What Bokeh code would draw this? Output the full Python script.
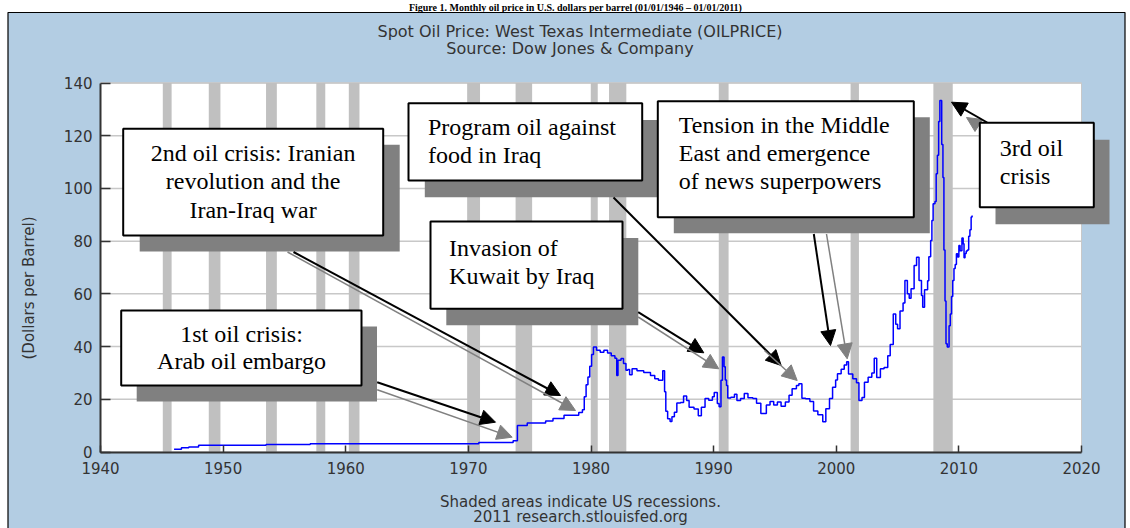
import numpy as np
from bokeh.plotting import figure
from bokeh.models import Range1d, FixedTicker, Arrow, NormalHead
from bokeh.core.properties import value
from bokeh.embed import file_html
from bokeh.resources import INLINE

# ---------------- data ----------------
years = [1946.0, 1946.6, 1947.2, 1948.0, 1953.5, 1957.1, 1970.85, 1973.65, 1974.0, 1974.8,
         1976.3, 1976.9, 1977.8, 1979.0, 1979.3, 1979.45, 1979.6, 1979.75, 1979.9, 1980.05,
         1980.2, 1980.45, 1980.75, 1981.05, 1981.35, 1981.65, 1981.95, 1982.1, 1982.2, 1982.45,
         1982.65, 1982.85, 1983.0, 1983.15, 1983.35, 1983.75, 1984.3, 1984.85, 1985.2, 1985.5,
         1985.85, 1986.0, 1986.1, 1986.25, 1986.45, 1986.6, 1986.8, 1987.0, 1987.3, 1987.55,
         1987.8, 1988.0, 1988.4, 1988.75, 1989.0, 1989.3, 1989.6, 1989.9, 1990.05, 1990.3,
         1990.45, 1990.6, 1990.72, 1990.85, 1990.95, 1991.05, 1991.15, 1991.4, 1991.7, 1991.9,
         1992.2, 1992.5, 1992.8, 1993.2, 1993.5, 1993.85, 1994.3, 1994.6, 1994.9, 1995.2,
         1995.5, 1995.85, 1996.15, 1996.4, 1996.75, 1996.95, 1997.2, 1997.5, 1997.85, 1998.15,
         1998.5, 1998.9, 1999.15, 1999.45, 1999.7, 1999.95, 2000.1, 2000.4, 2000.65, 2000.85,
         2001.0, 2001.35, 2001.65, 2001.85, 2002.1, 2002.3, 2002.6, 2002.9, 2003.1, 2003.3,
         2003.6, 2003.9, 2004.2, 2004.4, 2004.65, 2004.85, 2005.0, 2005.2, 2005.45, 2005.6,
         2005.8, 2005.95, 2006.1, 2006.35, 2006.55, 2006.75, 2006.95, 2007.05, 2007.2, 2007.45,
         2007.55, 2007.7, 2007.8, 2007.9, 2008.05, 2008.15, 2008.25, 2008.35, 2008.45, 2008.6,
         2008.7, 2008.78, 2008.87, 2008.95, 2009.05, 2009.2, 2009.3, 2009.4, 2009.5, 2009.6,
         2009.7, 2009.8, 2009.9, 2010.0, 2010.1, 2010.25, 2010.35, 2010.42, 2010.5, 2010.6,
         2010.7, 2010.8, 2010.9, 2011.0, 2011.08]
prices = [1.0, 1.6, 1.9, 2.6, 2.8, 3.1, 3.6, 4.3, 10.1, 11.0,
          11.8, 12.7, 13.9, 15.0, 16.0, 21.0, 25.5, 28.5, 32.5, 37.0,
          39.8, 38.6, 37.8, 38.6, 37.6, 36.5, 35.6, 29.0, 34.8, 35.5,
          33.6, 31.0, 31.3, 29.3, 31.6, 30.8, 30.2, 29.0, 27.8, 27.2,
          30.8, 22.9, 15.5, 12.6, 11.6, 13.4, 15.1, 18.6, 18.8, 21.2,
          19.5, 17.0, 16.3, 13.8, 17.0, 20.3, 19.6, 21.0, 22.6, 18.4,
          17.2, 27.2, 36.0, 32.3, 27.3, 25.2, 20.5, 20.8, 21.9, 19.5,
          20.3, 22.2, 20.6, 20.3, 18.5, 14.6, 17.8, 19.2, 17.8, 19.0,
          17.4, 19.0, 21.5, 24.0, 25.2, 25.9, 20.4, 20.2, 19.2, 15.6,
          14.1, 11.5, 16.4, 20.3, 24.6, 27.3, 29.7, 31.4, 33.0, 34.2,
          29.6, 27.8, 26.3, 19.5, 20.7, 26.5, 28.4, 30.0, 35.6, 28.3,
          31.6, 32.1, 36.5, 40.8, 52.4, 48.5, 46.8, 53.5, 56.5, 65.1,
          60.0, 58.3, 61.9, 70.8, 73.9, 65.1, 59.4, 54.9, 61.6, 65.0,
          74.1, 80.2, 87.8, 94.2, 95.0, 105.6, 112.6, 125.4, 133.4, 116.7,
          104.1, 76.6, 57.3, 41.1, 39.8, 47.9, 52.4, 59.0, 65.1, 69.6,
          71.1, 75.2, 74.0, 78.3, 76.4, 81.2, 79.0, 73.7, 75.3, 76.3,
          76.6, 81.9, 84.3, 89.2, 89.7]

recession_start = [1945.08, 1948.83, 1953.5, 1957.6, 1960.25, 1969.9, 1973.85, 1979.98, 1981.47, 1990.42, 2001.17, 2007.92]
recession_end = [1945.8, 1949.78, 1954.38, 1958.33, 1961.12, 1970.95, 1975.2, 1980.55, 1982.88, 1991.22, 2001.85, 2009.5]

x_ticks = [1940, 1950, 1960, 1970, 1980, 1990, 2000, 2010, 2020]
y_ticks = [0, 20, 40, 60, 80, 100, 120, 140]

fig_caption = "Figure 1. Monthly oil price in U.S. dollars per barrel (01/01/1946 \u2013 01/01/2011)"
chart_title = "Spot Oil Price: West Texas Intermediate (OILPRICE)"
chart_source = "Source: Dow Jones & Company"
note_1 = "Shaded areas indicate US recessions."
note_2 = "2011 research.stlouisfed.org"
y_label = "(Dollars per Barrel)"

callout_texts = {
    "A": ["2nd oil crisis: Iranian", "revolution and the", "Iran-Iraq war"],
    "B": ["1st oil crisis:", "Arab oil embargo"],
    "C": ["Program oil against", "food in Iraq"],
    "D": ["Tension in the Middle", "East and emergence", "of news superpowers"],
    "E": ["3rd oil", "crisis"],
    "F": ["Invasion of", "Kuwait by Iraq"],
}

# ---------------- layout (picture pixels) ----------------
W, H = 1130, 528
P0 = 0
PLOT_L, PLOT_R, PLOT_T, PLOT_B = 100.0, 1081.0, 82.5, 451.5
X0, X1, Y0, Y1 = 1940, 2020, 0, 140
PANEL = "#b3cde3"
PANEL_L, PANEL_T, PANEL_R = 7.5, 12.0, 1124.5
BASE_SHIFT = 0.35  # em offset between requested and drawn alphabetic baseline


def vb(y, fs):
    """requested y so that the drawn baseline lands on y (page px)"""
    return y - BASE_SHIFT * fs


# box: (left, top, right, bottom), shadow offset, text x, align, visual baselines
callout_layout = {
    "A": dict(box=(122.7, 128.3, 382.7, 235.0), sh=(16.5, 16.0), tx=252.6, align="center", base=[161.0, 189.3, 217.5]),
    "B": dict(box=(120.7, 310.0, 361.0, 385.0), sh=(15.5, 16.0), tx=241.0, align="center", base=[341.7, 369.3]),
    "C": dict(box=(408.0, 102.7, 641.7, 180.0), sh=(16.3, 16.7), tx=427.5, align="left", base=[134.5, 162.7]),
    "F": dict(box=(430.0, 221.0, 622.0, 308.3), sh=(15.8, 16.5), tx=448.6, align="left", base=[256.0, 284.2]),
    "D": dict(box=(657.3, 100.7, 913.3, 216.7), sh=(16.0, 16.0), tx=678.3, align="left", base=[132.8, 161.0, 189.2]),
    "E": dict(box=(979.3, 122.3, 1093.3, 206.7), sh=(15.7, 17.0), tx=999.3, align="left", base=[155.5, 183.5]),
}

arrows = [  # (x0, y0, x1, y1, color, width)
    (376.7, 381.7, 495.0, 421.7, "black", 2),
    (376.7, 389.3, 511.7, 436.7, "#808080", 1.5),
    (293.0, 251.5, 560.0, 395.0, "black", 2),
    (287.0, 251.5, 575.0, 410.0, "#808080", 1.5),
    (637.7, 311.7, 703.3, 352.3, "black", 2),
    (637.7, 316.5, 718.3, 368.3, "#808080", 1.5),
    (613.0, 197.0, 780.7, 365.0, "black", 2),
    (764.0, 350.0, 796.7, 380.0, "#808080", 1.5),
    (813.3, 233.5, 830.0, 345.0, "black", 2),
    (826.0, 233.5, 846.7, 358.3, "#808080", 1.5),
    (986.7, 122.0, 951.0, 101.7, "black", 2),
]

kx = (PLOT_R - PLOT_L) / (X1 - X0)
ky = (PLOT_B - PLOT_T) / (Y1 - Y0)
x_range = Range1d(X0 - (PLOT_L - P0) / kx, X1 + (P0 + W - PLOT_R) / kx)
y_range = Range1d(Y0 - (P0 + H - PLOT_B) / ky, Y1 + (PLOT_T - P0) / ky)

p = figure(width=W, height=H, x_range=x_range, y_range=y_range, title=None,
           output_backend="svg", toolbar_location=None, min_border=0)
p.extra_x_ranges = {"px": Range1d(P0, P0 + W)}
p.extra_y_ranges = {"px": Range1d(P0 + H, P0)}
PX = dict(x_range_name="px", y_range_name="px")

p.background_fill_color = "white"
p.border_fill_color = "white"
p.outline_line_color = None
p.xgrid.visible = False
p.ygrid.visible = False

# blue panel with its border
p.quad(left=[PANEL_L], right=[PANEL_R], top=[PANEL_T], bottom=[P0 + H + 2], fill_color=PANEL,
       line_color="black", line_width=1.2, **PX)

# plot area
p.quad(left=[X0], right=[X1], bottom=[Y0], top=[Y1], fill_color="white", line_color="#c8c8c8", line_width=1)
grid_levels = [t for t in y_ticks if t > 0]
p.segment(x0=[X0] * len(grid_levels), y0=grid_levels, x1=[X1] * len(grid_levels), y1=grid_levels,
          line_color="#c8c8c8", line_width=1.5)

# recessions
p.quad(left=recession_start, right=recession_end, bottom=[Y0] * len(recession_start),
       top=[Y1] * len(recession_start), fill_color="#c0c0c0", line_color=None)

# price line
p.step(x=years, y=prices, mode="after", line_color="#0000ff", line_width=1.5)

# axes
xa = p.xaxis[0]
xa.fixed_location = Y0
xa.bounds = (X0, X1)
xa.ticker = FixedTicker(ticks=x_ticks)
ya = p.yaxis[0]
ya.fixed_location = X0
ya.bounds = (Y0, Y1)
ya.ticker = FixedTicker(ticks=y_ticks)
for ax in (xa, ya):
    ax.axis_line_color = "#333333"
    ax.axis_line_width = 2
    ax.major_tick_line_color = "#333333"
    ax.major_tick_line_width = 1.5
    ax.major_tick_out = 0
    ax.minor_tick_in = 0
    ax.minor_tick_out = 0
    ax.major_label_text_font = "DejaVu Sans"
    ax.major_label_text_font_size = "15px"
    ax.major_label_text_color = "#333333"
xa.major_tick_in = 7
ya.major_tick_in = 10
xa.major_label_standoff = 10
ya.major_label_standoff = 8

# texts around the chart
sans = value("DejaVu Sans")
p.text(x=[575.0], y=[vb(10.0, 10)], text=[fig_caption], text_font=value("Liberation Serif"),
       text_font_style="bold", text_font_size="10px", text_align="center",
       text_baseline="alphabetic", text_color="black", **PX)
p.text(x=[579.5, 569.5], y=[vb(37.0, 16), vb(53.5, 16)], text=[chart_title, chart_source], text_font=sans,
       text_font_size="16px", text_align="center", text_baseline="alphabetic", text_color="#333333", **PX)
p.text(x=[580.0, 580.0], y=[vb(507.0, 15), vb(522.0, 15)], text=[note_1, note_2], text_font=sans,
       text_font_size="15px", text_align="center", text_baseline="alphabetic", text_color="#333333", **PX)
p.text(x=[28.5], y=[287.5], text=[y_label], angle=np.pi / 2, text_font=sans, text_font_size="15px",
       text_align="center", text_baseline="middle", text_color="#333333", **PX)

# small grey arrow head near "3rd oil crisis"
p.patch(x=[966.0, 982.0, 974.5], y=[117.0, 119.0, 131.0], fill_color="#808080", line_color="#808080", **PX)

# callouts
for key in ["A", "B", "C", "F", "D", "E"]:
    lay = callout_layout[key]
    l, t, r, b = lay["box"]
    dx, dy = lay["sh"]
    p.quad(left=[l + dx], right=[r + dx], top=[t + dy], bottom=[b + dy], fill_color="#808080", line_color=None, **PX)
    p.quad(left=[l], right=[r], top=[t], bottom=[b], fill_color="white", line_color="black", line_width=2, **PX)
    lines = callout_texts[key]
    p.text(x=[lay["tx"]] * len(lines), y=[vb(b_, 24) for b_ in lay["base"]], text=lines,
           text_font=value("Liberation Serif"), text_font_size="24px", text_align=lay["align"],
           text_baseline="alphabetic", text_color="black", **PX)

for (ax0, ay0, ax1, ay1, col, lw) in arrows:
    p.add_layout(Arrow(x_start=ax0, y_start=ay0, x_end=ax1, y_end=ay1, line_color=col, line_width=lw,
                       end=NormalHead(size=15, fill_color=col, line_color=col, line_width=1), **PX))

open("out.html", "w").write(file_html(p, INLINE))
